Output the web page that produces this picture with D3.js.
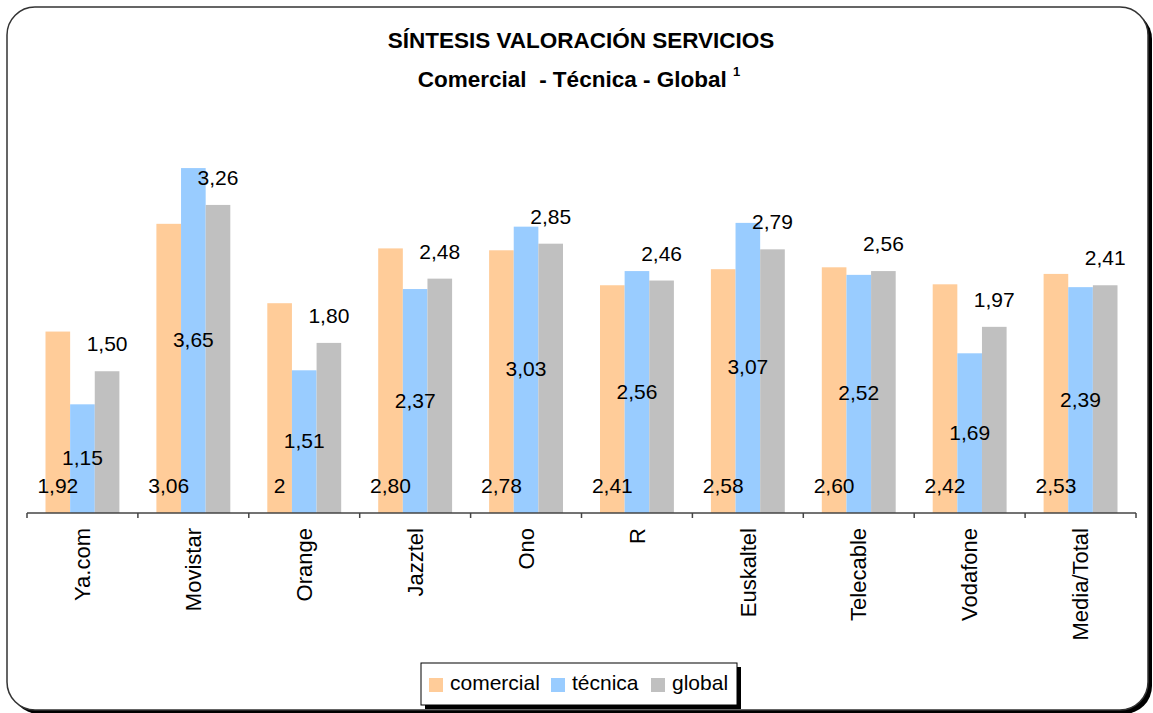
<!DOCTYPE html>
<html>
<head>
<meta charset="utf-8">
<script src="https://cdn.jsdelivr.net/npm/d3@7"></script>
<style>
    body { margin: 0; background: #fff; }
    svg { display: block; font-family: "Liberation Sans", Arial, sans-serif; }
</style>
</head>
<body>
<script>
// data
const categories = ["Ya.com", "Movistar", "Orange", "Jazztel", "Ono", "R", "Euskaltel", "Telecable", "Vodafone", "Media/Total"];
const seriesNames = ["comercial", "técnica", "global"];
const comercial = [1.92, 3.06, 2.22, 2.80, 2.78, 2.41, 2.58, 2.60, 2.42, 2.53];
const tecnica = [1.15, 3.65, 1.51, 2.37, 3.03, 2.56, 3.07, 2.52, 1.69, 2.39];
const global = [1.50, 3.26, 1.80, 2.48, 2.85, 2.46, 2.79, 2.56, 1.97, 2.41];
// labels as printed on the chart (Orange comercial shows "2")
const comercialLabels = ["1,92", "3,06", "2", "2,80", "2,78", "2,41", "2,58", "2,60", "2,42", "2,53"];
const colors = ["#FFCC99", "#99CCFF", "#C0C0C0"];

const svgWidth = 1153;
const svgHeight = 713;
const baseY = 513;

window.onload = main;

function main() {
    const svg = d3.select("body").append("svg")
        .attr("width", svgWidth)
        .attr("height", svgHeight);

    // frame with shadow
    svg.append("rect")
        .attr("x", 11).attr("y", 11)
        .attr("width", 1141).attr("height", 703)
        .attr("rx", 28).attr("ry", 28)
        .attr("fill", "#000");
    svg.append("rect")
        .attr("x", 7).attr("y", 7)
        .attr("width", 1141).attr("height", 703)
        .attr("rx", 28).attr("ry", 28)
        .attr("fill", "#fff")
        .attr("stroke", "#333")
        .attr("stroke-width", 1.5);

    // titles
    svg.append("text")
        .attr("x", 581).attr("y", 48)
        .attr("text-anchor", "middle")
        .style("font-size", "22.5px")
        .style("font-weight", "bold")
        .text("SÍNTESIS VALORACIÓN SERVICIOS");

    const sub = svg.append("text")
        .attr("x", 579).attr("y", 87)
        .attr("text-anchor", "middle")
        .style("font-size", "22.5px")
        .style("font-weight", "bold")
        .style("white-space", "pre");
    sub.append("tspan").text("Comercial  - Técnica - Global ");
    sub.append("tspan")
        .attr("dy", -11)
        .style("font-size", "13px")
        .text("1");

    const data = categories.map((c, i) => ({
        cat: c,
        values: [comercial[i], tecnica[i], global[i]]
    }));

    const scaleX = d3.scaleBand()
        .domain(categories)
        .range([27, 1136]);

    const bw = scaleX.bandwidth();
    const scaleX1 = d3.scaleBand()
        .domain(d3.range(3))
        .range([18.5, bw - 18.5]);

    const scaleY = d3.scaleLinear()
        .domain([0, 4])
        .range([baseY, baseY - 4 * 94.5]);

    const groups = svg.append("g")
        .selectAll("g")
        .data(data)
        .join("g")
        .attr("transform", d => `translate(${scaleX(d.cat)},0)`);

    groups.selectAll("rect")
        .data(d => d.values)
        .join("rect")
        .attr("x", (v, j) => scaleX1(j))
        .attr("y", v => scaleY(v))
        .attr("width", scaleX1.bandwidth())
        .attr("height", v => baseY - scaleY(v))
        .attr("fill", (v, j) => colors[j]);

    const lbl = svg.append("g")
        .style("font-size", "21px")
        .attr("text-anchor", "middle")
        .attr("fill", "#000");

    // comercial labels: near base
    lbl.selectAll("text.com")
        .data(data)
        .join("text")
        .attr("class", "com")
        .attr("x", (d) => scaleX(d.cat) + scaleX1(0) + scaleX1.bandwidth() / 2)
        .attr("y", 493)
        .text((d, i) => comercialLabels[i]);

    // técnica labels: middle of bar
    lbl.selectAll("text.tec")
        .data(data)
        .join("text")
        .attr("class", "tec")
        .attr("x", d => scaleX(d.cat) + scaleX1(1) + scaleX1.bandwidth() / 2)
        .attr("y", d => (scaleY(d.values[1]) + baseY) / 2 + 6.5)
        .text(d => d3.format(".2f")(d.values[1]).replace(".", ","));

    // global labels: above bar
    lbl.selectAll("text.glo")
        .data(data)
        .join("text")
        .attr("class", "glo")
        .attr("x", d => scaleX(d.cat) + scaleX1(2) + scaleX1.bandwidth() / 2)
        .attr("y", d => scaleY(d.values[2]) - 20)
        .text(d => d3.format(".2f")(d.values[2]).replace(".", ","));

    // x axis
    const axis = svg.append("g")
        .attr("transform", `translate(0,${baseY})`);
    axis.append("line")
        .attr("x1", 27).attr("x2", 1136)
        .attr("stroke", "#444").attr("stroke-width", 1.5);
    axis.selectAll("line.tick")
        .data(categories.concat(["end"]))
        .join("line")
        .attr("class", "tick")
        .attr("x1", (d, i) => i < categories.length ? scaleX(d) : scaleX.range()[1])
        .attr("x2", (d, i) => i < categories.length ? scaleX(d) : scaleX.range()[1])
        .attr("y1", 0).attr("y2", 5)
        .attr("stroke", "#444").attr("stroke-width", 1.5);

    axis.selectAll("text")
        .data(categories)
        .join("text")
        .attr("transform", d => `translate(${scaleX(d) + bw / 2},15) rotate(-90)`)
        .attr("text-anchor", "end")
        .attr("dy", "0.35em")
        .style("font-size", "22px")
        .text(d => d);

    // legend
    const legend = svg.append("g");
    legend.append("rect")
        .attr("x", 425).attr("y", 667)
        .attr("width", 316).attr("height", 42)
        .attr("fill", "#000");
    legend.append("rect")
        .attr("x", 421).attr("y", 663)
        .attr("width", 316).attr("height", 42)
        .attr("fill", "#fff")
        .attr("stroke", "#000")
        .attr("stroke-width", 1);

    const legendX = [429, 551, 651];
    const items = legend.selectAll("g.item")
        .data(seriesNames)
        .join("g")
        .attr("class", "item")
        .attr("transform", (d, i) => `translate(${legendX[i]},678)`);
    items.append("rect")
        .attr("width", 14).attr("height", 14)
        .attr("fill", (d, i) => colors[i]);
    items.append("text")
        .attr("x", 21).attr("y", 12)
        .style("font-size", "21px")
        .text(d => d);
}
</script>
</body>
</html>
